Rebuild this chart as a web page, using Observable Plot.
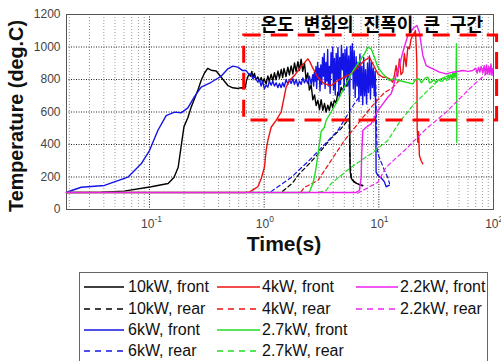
<!DOCTYPE html>
<html><head><meta charset="utf-8">
<script src="https://cdn.jsdelivr.net/npm/d3@7"></script>
<script src="https://cdn.jsdelivr.net/npm/@observablehq/plot@0.6"></script>
<style>
html,body{margin:0;padding:0;background:#fff;width:501px;height:361px;overflow:hidden;position:relative;font-family:"Liberation Sans",Arial,sans-serif;}
#chart{position:absolute;left:0;top:0;}
#legend{position:absolute;left:79px;top:272px;width:407px;height:110px;border:1px solid #666;background:#fff;}
.item{position:absolute;height:20px;display:flex;align-items:center;font-size:16px;color:#111;white-space:nowrap;}
</style></head><body>
<div id="chart"></div><div id="legend"></div>
<script>
// ---- data: [time (s), temperature (deg.C)] ----
const front10 = [[0.0189,105],[0.038,106],[0.06,113],[0.1035,140],[0.1455,160],[0.164,199],[0.178,260],[0.189,390],[0.2,510],[0.216,565],[0.231,630],[0.247,681],[0.266,740],[0.282,794],[0.302,840],[0.322,868],[0.345,857],[0.382,852],[0.422,814],[0.483,763],[0.533,749],[0.59,745],[0.63,749],[0.685,748],[0.70,790],[0.72,815],[0.74,835],[0.76,820],[0.78,850],[0.80,812],[0.823,838],[0.85,798],[0.88,816],[0.91,788],[0.942,812],[0.97,782],[1.0,805],[1.04,772],[1.077,822],[1.11,788],[1.15,832],[1.19,793],[1.23,842],[1.27,798],[1.32,852],[1.36,808],[1.41,862],[1.45,812],[1.49,868],[1.55,818],[1.61,876],[1.66,828],[1.72,884],[1.78,834],[1.84,902],[1.90,848],[1.97,910],[2.03,856],[2.10,925],[2.17,850],[2.25,900],[2.32,800],[2.40,840],[2.48,735],[2.57,765],[2.66,675],[2.75,705],[2.84,640],[2.94,672],[3.04,615],[3.14,676],[3.25,610],[3.36,652],[3.47,600],[3.59,642],[3.70,610],[3.84,662],[3.95,628],[4.10,672],[4.25,655],[4.39,722],[4.53,698],[4.69,752],[4.85,728],[5.01,772],[5.18,758],[5.37,822],[5.45,850],[5.54,897],[5.58,520],[5.62,240],[5.73,195],[5.93,178],[6.13,168],[6.34,162],[6.56,158],[6.9,152],[7.25,148]];
const rear10 = [[1.45,112],[1.75,160],[2.03,220],[2.5,285],[3.14,363],[3.8,435],[4.69,498],[5.3,545],[5.5,560],[5.6,300],[5.75,200],[6.0,178],[6.4,160],[7.0,148],[7.4,142]];
const front6 = [[0.0189,106],[0.0254,137],[0.0405,148],[0.0648,199],[0.0847,281],[0.1,363],[0.1183,486],[0.1398,578],[0.1652,599],[0.189,595],[0.2162,625],[0.2468,695],[0.2823,753],[0.3451,783],[0.4217,820],[0.4827,866],[0.5334,882],[0.5898,876],[0.65,855],[0.697,855],[0.74,830],[0.77,835],[0.797,804],[0.823,820],[0.881,783],[0.91,800],[0.942,760],[0.97,790],[1.006,743],[1.04,765],[1.077,753],[1.11,790],[1.151,765],[1.19,790],[1.23,760],[1.272,780],[1.316,750],[1.36,775],[1.407,750],[1.45,780],[1.494,755],[1.555,800],[1.609,770],[1.66,800],[1.719,775],[1.78,805],[1.837,770],[1.9,800],[1.967,760],[2.03,790],[2.102,770],[2.175,810],[2.246,780],[2.32,800],[2.404,775],[2.48,820],[2.569,770],[2.658,830],[2.70,760],[2.74,845],[2.78,790],[2.83,880],[2.87,745],[2.93,905],[2.97,800],[3.02,870],[3.07,730],[3.12,890],[3.18,770],[3.23,935],[3.29,820],[3.34,960],[3.40,745],[3.46,905],[3.52,790],[3.58,985],[3.63,760],[3.70,880],[3.76,715],[3.83,965],[3.89,840],[3.96,1000],[4.03,735],[4.10,930],[4.17,705],[4.25,960],[4.32,800],[4.40,995],[4.48,700],[4.56,935],[4.64,770],[4.72,1010],[4.81,860],[4.90,960],[4.98,735],[5.07,985],[5.16,810],[5.26,1000],[5.36,760],[5.46,945],[5.56,700],[5.66,1005],[5.77,840],[5.88,1020],[5.99,745],[6.10,975],[6.22,690],[6.34,940],[6.46,760],[6.58,905],[6.71,665],[6.84,955],[6.97,700],[7.10,880],[7.24,645],[7.38,935],[7.52,700],[7.67,860],[7.82,650],[7.97,900],[8.13,720],[8.29,945],[8.45,680],[8.62,905],[8.79,750],[8.96,870],[9.13,700],[9.3,850],[9.42,500],[9.47,230],[9.8,210],[10.47,195],[11.19,170],[11.58,140],[12.37,150]];
const rear6 = [[1.0,105],[1.15,110],[1.72,197],[2.57,314],[4.39,486],[6.13,652],[7.91,763],[9.0,830],[9.4,800],[9.6,420],[9.8,343],[10.5,290],[11.2,240],[12.0,195],[12.4,160]];
const front4 = [[0.0189,105],[0.673,105],[0.75,108],[0.823,127],[0.881,140],[0.942,189],[1.006,260],[1.041,363],[1.077,425],[1.151,506],[1.272,548],[1.407,600],[1.555,753],[1.662,794],[1.837,824],[2.102,880],[2.404,927],[2.5,910],[2.658,870],[2.939,814],[3.356,773],[3.838,763],[4.39,794],[5.013,814],[5.733,835],[6.56,876],[7.491,917],[8.279,937],[8.864,897],[9.802,835],[10.84,814],[11.58,814],[12.37,804],[13.24,783],[13.7,830],[14.15,886],[14.6,820],[15.12,927],[15.6,830],[16.19,845],[16.7,960],[17.3,880],[17.9,1000],[18.49,989],[19.1,1050],[19.79,1071],[20.3,1080],[20.85,1102],[21.2,1000],[21.45,900],[21.6,500],[21.88,414],[22.2,480],[22.59,332],[23.38,300],[24.19,281]];
const rear4 = [[2.1,108],[2.25,137],[2.94,178],[3.84,302],[5.01,425],[6.56,527],[8.57,630],[11.19,720],[13.24,750],[14.6,785],[15.5,800]];
const front27 = [[0.0189,105],[2.4,105],[2.483,108],[2.658,160],[2.745,199],[2.84,260],[3.035,404],[3.141,480],[3.356,506],[3.472,548],[3.838,600],[4.39,671],[4.854,732],[5.366,794],[5.733,835],[6.56,897],[7.491,958],[8.02,999],[8.567,989],[9.153,937],[9.802,876],[10.84,835],[12.37,794],[13.24,804],[15.12,794],[17.3,783],[19.79,773],[21.0,800],[22.59,804],[23.5,780],[24.19,790],[25.5,810],[26.74,814],[27.6,780],[28.58,783],[30,800],[31.6,783],[33,800],[34.5,790],[36.14,790],[37.5,815],[39,795],[40.5,825],[41.27,800],[42.5,830],[43.5,800],[44.18,840],[45,810],[45.61,835],[46.5,815],[47.2,840],[47.5,1020],[47.7,800],[47.86,414],[48.0,600]];
const rear27 = [[3.0,105],[3.47,117],[3.84,160],[5.73,260],[8.57,343],[11.98,425],[15.12,537],[19.79,640],[25.85,722],[33.76,800],[44.18,835],[48,840]];
const front22 = [[0.0189,105],[6.339,105],[6.774,117],[7.009,199],[7.1,350],[7.253,486],[7.751,506],[8.567,527],[9.153,568],[9.802,609],[10.84,650],[11.98,691],[12.8,712],[13.24,743],[14.15,824],[15.12,886],[16.19,968],[17.9,1071],[19.79,1112],[21.45,1132],[22.59,1090],[24.19,948],[25.85,886],[29.57,866],[33.76,845],[38.63,835],[44.18,845],[54,855],[60,850],[66,855],[70,870],[72,840],[74,875],[76,845],[78,880],[80.7,840],[83,885],[85,830],[87,890],[89,835],[91,880],[93,830],[95,895],[97,825],[99,870]];
const rear22 = [[6.56,100],[9.802,168],[11.58,260],[17.3,373],[25.85,496],[38.63,599],[50.43,681],[66.01,763],[86.19,835],[98.6,866]];

const seriesNames = ["10kW, front","10kW, rear","6kW, front","6kW, rear","4kW, front","4kW, rear","2.7kW, front","2.7kW, rear","2.2kW, front","2.2kW, rear"];
const seriesData = [front10, rear10, front6, rear6, front4, rear4, front27, rear27, front22, rear22];

const yTicks = [0,200,400,600,800,1000,1200];
const xTicks = [0.1,1,10,100];
const xTickExponents = ["-1","0","1","2"];
const xDomain = [0.0189,100];
const yDomain = [0,1200];
const xLabel = "Time(s)";
const yLabel = "Temperature (deg.C)";
const annotText = [{t:8.7, T:1132, label:"온도 변화의 진폭이 큰 구간"}];
const annotBox = [{t1:0.67, t2:107.5, T1:548, T2:1071}];

// ---- styles ----
const seriesColors = ["#000000","#000000","#1414e6","#1414e6","#ee1111","#ee1111","#22dd22","#22dd22","#ee22ee","#ee22ee"];
const seriesDash = [null,"4,3",null,"4,3",null,"4,3",null,"4,3",null,"4,3"];

const minorX = [];
for (let e = -2; e < 2; e++) for (let m = 2; m <= 9; m++) { const v = m * Math.pow(10, e); if (v > xDomain[0] && v < xDomain[1]) minorX.push(v); }

const tables = seriesData.map((arr, i) => arr.map(([t, T]) => ({t, T, series: seriesNames[i]})));

const lineMarks = tables.map((tab, i) => Plot.line(tab, {
  x: "t", y: "T", stroke: seriesColors[i], strokeWidth: seriesDash[i] ? 1.2 : 1.4,
  strokeDasharray: seriesDash[i] || undefined, curve: "linear"
}));

const plot = Plot.plot({
  width: 501, height: 265,
  marginLeft: 66, marginRight: 8, marginTop: 14, marginBottom: 56,
  style: {fontFamily: "Liberation Sans, Arial, sans-serif", fontSize: "12px", background: "#fff"},
  x: {type: "log", domain: xDomain, axis: null},
  y: {domain: yDomain, axis: null},
  marks: [
    Plot.ruleX(minorX, {stroke: "#999", strokeDasharray: "1,2", strokeWidth: 1}),
    Plot.ruleX(xTicks.slice(0, 3), {stroke: "#222", strokeDasharray: "1,1.5", strokeWidth: 1}),
    Plot.ruleY(yTicks.slice(1, 6), {stroke: "#222", strokeDasharray: "1,1.5", strokeWidth: 1}),
    Plot.frame({stroke: "#555", strokeWidth: 1}),
    ...lineMarks,
    Plot.rect(annotBox, {x1: "t1", x2: "t2", y1: "T1", y2: "T2", fill: "none", stroke: "#ff0000", strokeWidth: 3, strokeDasharray: "17,10"}),
    Plot.text(annotText, {x: "t", y: "T", text: "label", fontFamily: "Noto Sans CJK KR", fontWeight: "bold", fontSize: 18, fill: "#000"}),
    Plot.text(yTicks, {y: d => d, text: d => String(d), frameAnchor: "left", dx: -6, textAnchor: "end", fontSize: 12, fill: "#444"}),
    Plot.text(xTicks, {x: d => d, text: () => "10", frameAnchor: "bottom", dy: 18, dx: 5, textAnchor: "end", fontSize: 12, fill: "#444"}),
    Plot.text(xTicks, {x: d => d, text: (d, i) => xTickExponents[i], frameAnchor: "bottom", dy: 12, dx: 5, textAnchor: "start", fontSize: 8.5, fill: "#444"}),
    Plot.text([xLabel], {frameAnchor: "bottom", dy: 41, dx: 4, fontSize: 21, fontWeight: "bold", fill: "#111"})
  ]
});
document.getElementById("chart").appendChild(plot);
const svg = d3.select(plot);
svg.selectAll("text").filter(function(){ return /[가-힣]/.test(this.textContent); }).style("word-spacing", "6px");
svg.append("text")
  .attr("transform", "translate(18,116) rotate(-90)")
  .attr("text-anchor", "middle").attr("dominant-baseline", "middle")
  .attr("font-size", 19.8).attr("font-weight", "bold").attr("fill", "#111")
  .attr("font-family", "Liberation Sans, Arial, sans-serif")
  .text(yLabel);

// ---- legend ----
const legend = document.getElementById("legend");
const colSample = [4, 137, 276], colSampleW = [40, 43, 42], colText = [48, 182, 320], rowY = [4, 25.5, 47, 68];
seriesNames.forEach((name, i) => {
  const c = Math.floor(i / 4), r = i % 4;
  const s = document.createElementNS("http://www.w3.org/2000/svg", "svg");
  s.setAttribute("width", colSampleW[c]); s.setAttribute("height", 4);
  s.style.position = "absolute"; s.style.left = colSample[c] + "px"; s.style.top = (rowY[r] + 8) + "px";
  const l = document.createElementNS("http://www.w3.org/2000/svg", "line");
  l.setAttribute("x1", 0); l.setAttribute("x2", colSampleW[c]); l.setAttribute("y1", 2); l.setAttribute("y2", 2);
  l.setAttribute("stroke", seriesColors[i]); l.setAttribute("stroke-width", 1.4);
  if (seriesDash[i]) l.setAttribute("stroke-dasharray", "6,5");
  s.appendChild(l); legend.appendChild(s);
  const d = document.createElement("div");
  d.className = "item"; d.textContent = name;
  d.style.left = colText[c] + "px"; d.style.top = rowY[r] + "px";
  legend.appendChild(d);
});
</script></body></html>
